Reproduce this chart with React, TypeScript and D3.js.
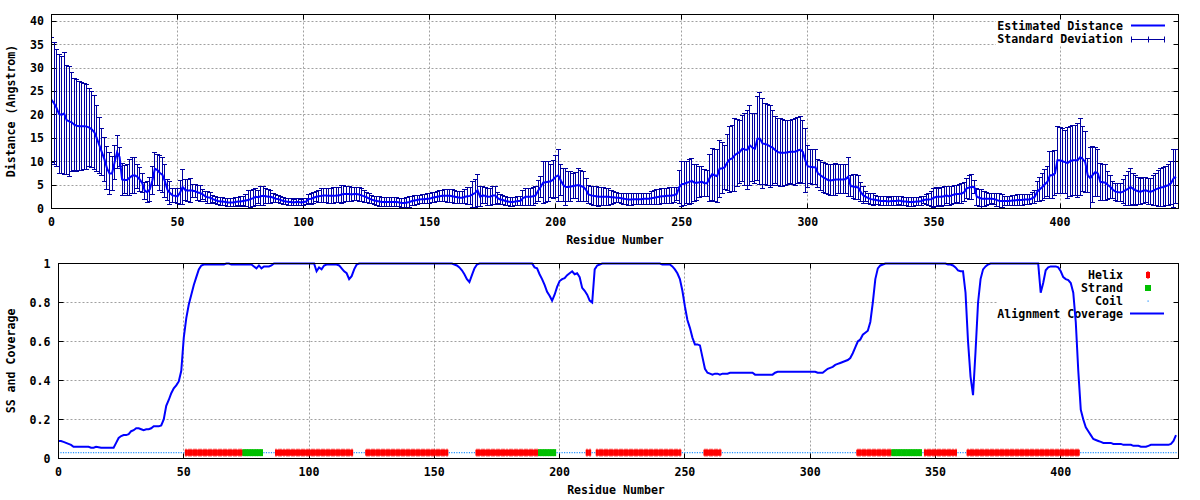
import React from 'react';
import * as d3 from 'd3';

// ---------- DATA ----------
// Estimated distance (Angstrom) per residue 0..446
const MEAN: number[] = [
  23.2,22.5,21.5,20.2,20.0,20.3,18.9,18.6,18.4,17.9,
  17.7,17.6,17.6,17.6,17.5,17.3,16.9,16.3,15.0,13.5,
  12.0,10.5,8.6,7.5,7.5,9.8,12.0,11.0,6.2,6.1,
  6.1,6.6,7.0,7.1,6.8,6.2,5.4,3.8,3.5,4.1,
  6.0,8.5,8.2,7.6,7.2,5.8,4.0,3.3,2.8,2.7,
  2.6,3.4,4.6,4.0,3.8,3.9,3.8,3.7,3.4,3.3,
  3.0,2.6,2.4,2.3,2.0,1.8,1.6,1.5,1.5,1.4,
  1.3,1.3,1.3,1.4,1.5,1.5,1.6,1.7,1.8,2.0,
  2.2,2.5,2.4,2.6,2.7,2.6,2.5,2.5,2.3,2.1,
  2.0,1.8,1.6,1.5,1.4,1.4,1.3,1.4,1.4,1.3,
  1.4,1.5,2.0,2.1,2.3,2.5,2.6,2.7,2.8,2.8,
  2.7,2.7,2.7,2.8,2.8,3.0,3.1,3.1,3.1,3.0,
  3.1,3.1,3.0,2.8,2.6,2.4,2.1,1.9,1.7,1.6,
  1.5,1.4,1.4,1.4,1.4,1.4,1.4,1.4,1.3,1.2,
  1.2,1.3,1.4,1.6,1.7,1.8,1.9,2.0,2.0,2.1,
  2.1,2.3,2.4,2.5,2.6,2.7,2.7,2.7,2.7,2.6,
  2.5,2.4,2.3,2.3,2.5,2.6,2.7,3.0,3.3,3.9,
  2.5,2.8,2.7,2.5,2.5,2.8,2.8,2.2,1.9,1.8,
  1.6,1.5,1.4,1.4,1.5,1.6,1.6,2.2,2.5,2.5,
  2.5,2.6,2.8,3.8,4.6,5.5,5.6,5.7,5.8,6.2,
  6.8,7.1,6.0,5.0,4.6,4.6,4.7,4.8,4.9,5.0,
  4.8,4.6,4.0,3.0,2.8,2.7,2.6,2.5,2.5,2.5,
  2.5,2.5,2.4,2.4,2.3,2.3,2.2,2.1,2.0,1.9,
  1.9,2.0,2.0,2.0,2.0,2.1,2.1,2.1,2.2,2.3,
  2.4,2.5,2.6,2.6,2.7,2.7,2.8,2.9,3.1,4.6,
  5.2,5.3,5.5,5.7,5.9,5.5,5.5,5.6,5.7,5.4,
  5.4,6.5,7.3,7.1,6.9,8.5,8.6,8.8,9.8,10.5,
  10.7,11.4,11.8,12.1,12.8,12.6,12.5,13.5,13.0,12.8,
  14.9,14.9,13.9,13.8,13.6,13.3,13.0,12.5,12.1,11.9,
  11.9,11.9,12.0,12.1,12.1,12.1,12.4,12.6,12.1,10.3,
  9.0,8.9,8.8,8.8,7.5,7.1,6.7,6.4,6.1,6.0,
  6.1,6.2,6.2,6.2,6.2,6.3,6.8,4.8,4.7,4.6,
  4.5,3.5,2.8,2.5,2.2,2.0,1.9,1.8,1.7,1.6,
  1.6,1.6,1.5,1.6,1.6,1.6,1.7,1.6,1.5,1.5,
  1.4,1.4,1.4,1.5,1.5,1.6,1.8,1.9,1.9,2.0,
  2.3,2.5,2.5,2.5,2.6,2.8,2.6,2.8,3.0,3.1,
  3.1,3.2,3.5,4.3,4.5,4.6,4.6,2.5,2.3,2.1,
  2.1,2.1,2.1,2.1,2.0,1.8,1.6,1.6,1.6,1.6,
  1.6,1.7,1.7,1.8,1.8,1.8,1.9,1.9,1.9,2.2,
  2.5,3.6,4.1,4.6,5.2,5.7,7.1,7.1,7.5,10.3,
  10.3,10.1,9.9,9.7,10.1,10.3,10.3,10.3,11.0,10.6,
  9.9,7.1,6.5,7.2,7.8,7.5,5.7,5.6,5.5,5.0,
  4.6,4.0,3.6,3.5,3.4,3.6,3.9,4.2,4.6,4.2,
  3.9,3.7,3.6,3.8,3.9,3.7,3.6,3.8,4.1,4.3,
  4.5,4.6,4.8,5.0,5.4,6.4,6.8,
];

// Standard deviation per residue 0..446
const SD: number[] = [
  13.3,13.0,12.5,12.8,12.5,13.0,11.6,11.8,10.6,9.8,
  9.8,9.5,9.4,9.2,9.1,8.4,8.2,7.9,7.0,6.0,
  5.0,4.7,4.6,4.5,3.6,3.7,3.5,2.0,3.5,3.0,
  3.3,3.8,3.9,3.8,2.6,2.5,2.0,1.8,2.3,2.5,
  3.0,3.5,3.3,3.8,3.7,3.5,2.3,2.4,1.5,1.5,
  1.6,2.5,3.8,2.2,2.4,2.6,1.4,1.4,1.6,1.7,
  1.0,1.1,1.3,1.2,0.8,0.8,0.8,0.8,0.8,0.8,
  0.9,0.9,0.8,0.9,0.9,1.0,1.0,1.3,2.0,1.8,
  1.8,1.8,1.4,2.0,2.0,1.6,1.5,1.4,1.0,0.8,
  0.8,0.7,0.7,0.7,0.7,0.7,0.7,0.7,0.7,0.7,
  0.7,0.7,1.0,1.2,1.2,1.1,1.3,1.5,1.5,1.5,
  1.6,1.6,1.7,1.6,1.6,1.9,1.9,1.5,1.5,1.4,
  1.4,1.4,1.4,1.4,1.3,1.1,1.0,0.9,0.9,0.9,
  1.0,1.0,1.0,1.0,1.0,1.0,1.0,1.0,0.9,0.9,
  0.9,1.0,1.1,1.0,1.0,0.9,0.9,0.9,1.0,1.1,
  1.1,1.1,1.1,1.1,1.2,1.2,1.3,1.4,1.4,1.4,
  1.4,1.3,1.3,1.3,1.5,1.8,1.8,2.8,3.0,3.4,
  2.1,1.8,1.7,1.8,1.8,2.0,2.0,1.2,1.0,0.9,
  0.9,0.9,0.9,0.9,0.9,0.9,1.0,1.6,1.8,1.8,
  1.8,1.9,1.8,2.2,2.3,4.5,4.4,4.3,3.5,4.0,
  4.5,5.5,3.3,3.5,3.9,3.2,3.1,2.7,2.8,3.5,
  3.3,3.2,2.5,2.0,2.0,2.0,2.0,2.0,1.9,1.9,
  1.8,1.8,1.5,1.3,1.1,1.0,1.1,1.2,1.2,1.2,
  1.2,1.2,1.2,1.2,1.2,1.2,1.2,1.2,1.4,1.5,
  1.6,1.6,1.6,1.6,1.6,1.7,1.7,1.6,1.4,3.6,
  4.8,4.7,4.5,4.8,4.8,4.0,3.8,3.3,3.2,2.9,
  2.8,5.0,5.5,5.5,5.6,6.1,5.4,4.7,6.0,7.0,
  7.1,7.8,7.2,6.8,7.1,7.6,8.5,8.6,7.3,7.5,
  9.0,9.8,9.6,8.6,8.6,8.8,8.0,7.2,7.1,7.3,
  7.2,7.0,6.9,6.8,7.0,7.1,7.0,7.0,6.8,6.8,
  4.5,3.6,3.7,3.7,3.0,3.2,3.2,3.2,3.2,3.3,
  3.4,3.4,3.1,3.1,3.1,3.0,4.2,2.3,2.5,2.7,
  2.6,2.0,1.8,1.1,1.1,1.1,1.2,1.0,0.9,0.9,
  0.9,0.9,0.9,0.9,0.9,0.9,0.9,0.9,0.9,0.9,
  0.9,0.9,0.9,0.9,0.9,0.9,0.8,1.0,1.3,1.6,
  2.0,2.0,1.8,2.0,2.0,1.8,2.0,2.0,2.0,1.9,
  2.0,2.2,2.0,2.1,2.5,2.7,1.4,1.8,1.8,2.0,
  1.6,1.4,1.2,1.1,1.1,1.3,1.5,1.3,1.0,1.0,
  1.0,1.0,1.1,1.1,1.1,1.1,1.0,1.0,1.0,1.2,
  1.4,2.1,2.5,2.9,3.1,3.2,5.0,5.0,4.8,7.2,
  7.0,6.9,6.8,7.6,7.5,7.5,7.5,7.9,8.2,7.0,
  6.5,3.6,6.5,6.0,5.3,5.0,3.9,3.8,3.8,3.0,
  2.5,1.8,1.8,1.9,2.0,2.6,3.2,3.6,3.9,3.3,
  3.2,2.9,2.8,2.8,2.7,2.8,2.8,3.2,3.4,3.8,
  4.0,4.1,4.1,4.4,4.6,6.1,5.7,
];

// Alignment coverage per residue 0..446
const COVERAGE: number[] = [
  .09,.09,.085,.08,.075,.07,.06,.06,.06,.06,
  .06,.06,.06,.055,.055,.06,.058,.055,.055,.055,
  .055,.055,.055,.08,.105,.115,.12,.12,.125,.14,
  .145,.155,.155,.15,.145,.15,.15,.155,.165,.165,
  .165,.17,.2,.27,.3,.335,.36,.375,.395,.45,
  .62,.72,.79,.84,.89,.93,.97,.99,.995,.995,
  .995,.995,.995,.995,.995,.995,.995,1,1,.995,
  .995,.995,.995,.995,.995,.995,.995,.995,.985,.975,
  .99,.975,.985,.985,.985,.99,1,1,1,1,
  1,1,1,1,1,1,1,1,1,1,
  1,1,1,.96,.98,.97,.99,.995,.995,.995,
  .995,.995,.99,.975,.96,.95,.92,.935,.97,.995,
  1,1,1,1,1,1,1,1,1,1,
  1,1,1,1,1,1,1,1,1,1,
  1,1,1,1,1,1,1,1,1,1,
  1,1,1,1,1,1,1,1,.995,.99,
  .98,.965,.945,.92,.905,.94,.975,.995,1,1,
  1,1,1,1,1,1,1,1,1,1,
  1,1,1,1,1,1,1,1,1,1,
  .98,.975,.945,.92,.89,.855,.835,.81,.84,.88,
  .91,.92,.925,.94,.95,.96,.945,.95,.93,.875,
  .86,.84,.81,.8,.97,.99,.995,1,1,1,
  1,1,1,1,1,1,1,1,1,1,
  1,1,1,1,1,1,1,1,1,1,
  1,.995,.995,.995,.995,.985,.97,.95,.92,.86,
  .78,.71,.67,.62,.585,.585,.58,.52,.46,.44,
  .435,.43,.435,.435,.43,.435,.435,.435,.44,.44,
  .44,.44,.44,.44,.44,.44,.44,.44,.43,.43,
  .43,.43,.43,.43,.43,.43,.44,.445,.445,.445,
  .445,.445,.445,.445,.445,.445,.445,.445,.445,.445,
  .445,.445,.445,.44,.44,.44,.45,.46,.465,.47,
  .48,.485,.49,.495,.5,.505,.515,.54,.57,.6,
  .61,.635,.645,.655,.7,.8,.92,.975,.99,.995,
  1,1,1,1,1,1,1,1,1,1,
  1,1,1,1,1,1,1,1,1,1,
  1,1,1,1,1,.995,.995,.99,.98,.965,
  .96,.96,.85,.6,.42,.325,.55,.8,.92,.97,
  .985,.995,1,1,1,1,1,1,1,1,
  1,1,1,1,1,1,1,1,1,1,
  1,1,.85,.9,.965,.98,.985,.985,.985,.98,
  .96,.93,.92,.915,.9,.85,.7,.45,.25,.2,
  .16,.14,.12,.1,.095,.09,.085,.08,.08,.08,
  .08,.075,.075,.075,.075,.07,.07,.07,.07,.065,
  .065,.065,.06,.06,.06,.065,.07,.07,.07,.07,
  .07,.07,.07,.07,.075,.09,.12,
];

// Secondary structure (residue ranges, inclusive)
const HELIX_RANGES: [number, number][] = [
  [51, 73], [87, 117], [123, 155], [167, 191], [211, 212],
  [215, 248], [258, 264], [319, 332], [346, 358], [363, 407],
];
const STRAND_RANGES: [number, number][] = [
  [74, 81], [192, 198], [333, 344],
];
const SS_VALUE = 0.03;

const X_TICKS = [0, 50, 100, 150, 200, 250, 300, 350, 400];
const Y_TICKS_TOP = [0, 5, 10, 15, 20, 25, 30, 35, 40];
const Y_TICKS_BOT = [0, 0.2, 0.4, 0.6, 0.8, 1];
const Y_TICK_LABELS_BOT = ['0', '0.2', '0.4', '0.6', '0.8', '1'];

// ---------- STYLE ----------
const FONT = "'DejaVu Sans Mono', 'Liberation Mono', monospace";
const FS = 11.6;
const GRID = '#a0a0a0';
const LINE_BLUE = '#0000ff';
const BAR_BLUE = '#0000a0';

const px = (v: number) => Math.round(v - 0.5) + 0.5;

export default function App() {
  const n = MEAN.length;
  const residues = d3.range(n);

  // top panel
  const T = { l: 51.5, r: 1178.5, t: 14.5, b: 208.5 };
  const xT = d3.scaleLinear().domain([0, 447]).range([T.l, T.r]);
  const yT = d3.scaleLinear().domain([0, 41.45]).range([T.b, T.t]);

  // bottom panel
  const B = { l: 58.5, r: 1178.5, t: 263.5, b: 458.5 };
  const xB = d3.scaleLinear().domain([0, 447]).range([B.l, B.r]);
  const yB = d3.scaleLinear().domain([0, 1]).range([B.b, B.t]);

  const meanLine = d3.line<number>().x((i) => xT(i)).y((i) => yT(MEAN[i]))(residues) || '';
  const covLine = d3.line<number>().x((i) => xB(i)).y((i) => yB(COVERAGE[i]))(residues) || '';

  const ss: string[] = residues.map(() => 'C');
  HELIX_RANGES.forEach(([a, b]) => { for (let i = a; i <= b; i++) ss[i] = 'H'; });
  STRAND_RANGES.forEach(([a, b]) => { for (let i = a; i <= b; i++) ss[i] = 'E'; });

  const txt = { fontFamily: FONT, fontSize: FS, fontWeight: 700 as const, fill: '#000' };
  const tick = 5;
  const step = xB(1) - xB(0);

  return (
    <svg width={1200} height={500} style={{ position: 'absolute', left: 0, top: 0, background: '#fff' }}>
      <defs>
        <clipPath id="clipT"><rect x={T.l} y={T.t} width={T.r - T.l} height={T.b - T.t} /></clipPath>
        <clipPath id="clipB"><rect x={B.l} y={B.t - 2} width={B.r - B.l} height={B.b - B.t + 2} /></clipPath>
      </defs>
      <rect x={0} y={0} width={1200} height={500} fill="#fff" />

      {/* ===== TOP PANEL ===== */}
      <g>
        {X_TICKS.filter((v) => v > 0).map((v) => (
          <line key={'gxt' + v} x1={px(xT(v))} x2={px(xT(v))} y1={T.b} y2={T.t} stroke={GRID} strokeDasharray="2,2" />
        ))}
        {Y_TICKS_TOP.filter((v) => v > 0).map((v) => (
          <line key={'gyt' + v} x1={T.l} x2={T.r} y1={px(yT(v))} y2={px(yT(v))} stroke={GRID} strokeDasharray="2,2" />
        ))}
        {/* key background */}
        <rect x={996} y={15} width={182} height={31} fill="#fff" />
        {/* ticks */}
        {X_TICKS.map((v) => (
          <g key={'txt' + v}>
            <line x1={px(xT(v))} x2={px(xT(v))} y1={T.b} y2={T.b - tick} stroke="#000" />
            <line x1={px(xT(v))} x2={px(xT(v))} y1={T.t} y2={T.t + tick} stroke="#000" />
            <text x={xT(v)} y={226} textAnchor="middle" {...txt}>{v}</text>
          </g>
        ))}
        {Y_TICKS_TOP.map((v) => (
          <g key={'tyt' + v}>
            <line x1={T.l} x2={T.l + tick} y1={px(yT(v))} y2={px(yT(v))} stroke="#000" />
            <line x1={T.r} x2={T.r - tick} y1={px(yT(v))} y2={px(yT(v))} stroke="#000" />
            <text x={44} y={yT(v) + 4} textAnchor="end" {...txt}>{v}</text>
          </g>
        ))}
        {/* key */}
        <text x={1123} y={29.5} textAnchor="end" {...txt}>Estimated Distance</text>
        <line x1={1131} x2={1165} y1={25.5} y2={25.5} stroke={LINE_BLUE} strokeWidth={2} />
        <text x={1123} y={43} textAnchor="end" {...txt}>Standard Deviation</text>
        <line x1={1131} x2={1165} y1={39.5} y2={39.5} stroke={BAR_BLUE} />
        {[1131.5, 1148.5, 1164.5].map((x) => (
          <line key={'ks' + x} x1={x} x2={x} y1={36.5} y2={42.5} stroke={BAR_BLUE} />
        ))}
        {/* data */}
        <g clipPath="url(#clipT)">
          {residues.map((i) => {
            const x = px(xT(i));
            const lo = yT(MEAN[i] - SD[i]);
            const hi = yT(MEAN[i] + SD[i]);
            return (
              <g key={'eb' + i} stroke={BAR_BLUE} strokeWidth={1}>
                <line x1={x} x2={x} y1={lo} y2={hi} />
                <line x1={x - 2.5} x2={x + 2.5} y1={px(hi)} y2={px(hi)} />
                <line x1={x - 2.5} x2={x + 2.5} y1={px(lo)} y2={px(lo)} />
              </g>
            );
          })}
          <path d={meanLine} fill="none" stroke={LINE_BLUE} strokeWidth={2} />
        </g>
        <rect x={T.l} y={T.t} width={T.r - T.l} height={T.b - T.t} fill="none" stroke="#000" />
        <text x={615} y={244} textAnchor="middle" {...txt}>Residue Number</text>
        <text transform="translate(14.5,111) rotate(-90)" textAnchor="middle" {...txt}>Distance (Angstrom)</text>
      </g>

      {/* ===== BOTTOM PANEL ===== */}
      <g>
        {X_TICKS.filter((v) => v > 0).map((v) => (
          <line key={'gxb' + v} x1={px(xB(v))} x2={px(xB(v))} y1={B.b} y2={B.t} stroke={GRID} strokeDasharray="2,2" />
        ))}
        {Y_TICKS_BOT.filter((v) => v > 0 && v < 1).map((v) => (
          <line key={'gyb' + v} x1={B.l} x2={B.r} y1={px(yB(v))} y2={px(yB(v))} stroke={GRID} strokeDasharray="2,2" />
        ))}
        <rect x={998} y={264} width={180} height={54} fill="#fff" />
        {X_TICKS.map((v) => (
          <g key={'txb' + v}>
            <line x1={px(xB(v))} x2={px(xB(v))} y1={B.b} y2={B.b - tick} stroke="#000" />
            <line x1={px(xB(v))} x2={px(xB(v))} y1={B.t} y2={B.t + tick} stroke="#000" />
            <text x={xB(v)} y={476} textAnchor="middle" {...txt}>{v}</text>
          </g>
        ))}
        {Y_TICKS_BOT.map((v, k) => (
          <g key={'tyb' + v}>
            <line x1={B.l} x2={B.l + tick} y1={px(yB(v))} y2={px(yB(v))} stroke="#000" />
            <line x1={B.r} x2={B.r - tick} y1={px(yB(v))} y2={px(yB(v))} stroke="#000" />
            <text x={50.5} y={yB(v) + 4} textAnchor="end" {...txt}>{Y_TICK_LABELS_BOT[k]}</text>
          </g>
        ))}
        {/* key */}
        <text x={1123} y={279} textAnchor="end" {...txt}>Helix</text>
        <rect x={1146} y={272} width={4} height={6} fill="#ff0000" />
        <line x1={1148} x2={1148} y1={271} y2={279} stroke="#ff0000" />
        <text x={1123} y={292} textAnchor="end" {...txt}>Strand</text>
        <rect x={1145} y={285} width={6} height={6} fill="#00c000" />
        <text x={1123} y={305} textAnchor="end" {...txt}>Coil</text>
        <rect x={1147.5} y={300.5} width={1.2} height={1.2} fill="#1e90ff" />
        <text x={1123} y={317.5} textAnchor="end" {...txt}>Alignment Coverage</text>
        <line x1={1130} x2={1164} y1={313.5} y2={313.5} stroke={LINE_BLUE} strokeWidth={2} />
        {/* data */}
        <g clipPath="url(#clipB)">
          {residues.map((i) => {
            const x = xB(i);
            const y = yB(SS_VALUE);
            if (ss[i] === 'H') {
              return (
                <g key={'ss' + i} fill="#ff0000">
                  <rect x={x - 1.5} y={y - 3} width={3} height={6} />
                  <rect x={Math.round(x) - 0.5} y={y - 4} width={1} height={8} />
                </g>
              );
            }
            if (ss[i] === 'E') {
              return <rect key={'ss' + i} x={x - step / 2 - 0.3} y={y - 3.5} width={step + 0.6} height={7} fill="#00c000" />;
            }
            return <rect key={'ss' + i} x={x - 0.6} y={y - 0.6} width={1.2} height={1.2} fill="#1e90ff" />;
          })}
          <path d={covLine} fill="none" stroke={LINE_BLUE} strokeWidth={2} />
        </g>
        <rect x={B.l} y={B.t} width={B.r - B.l} height={B.b - B.t} fill="none" stroke="#000" />
        <text x={616} y={494} textAnchor="middle" {...txt}>Residue Number</text>
        <text transform="translate(14.5,361) rotate(-90)" textAnchor="middle" {...txt}>SS and Coverage</text>
      </g>
    </svg>
  );
}
